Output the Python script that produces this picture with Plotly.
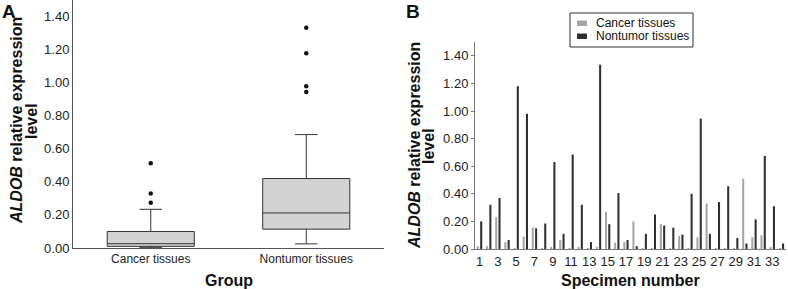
import plotly.graph_objects as go

# ---------------- data ----------------
groups = ["Cancer tissues", "Nontumor tissues"]
box_lowerfence = [0.004, 0.025]
box_q1 = [0.010, 0.114]
box_median = [0.026, 0.212]
box_q3 = [0.100, 0.420]
box_upperfence = [0.234, 0.686]
outlier_group = ["Cancer tissues", "Cancer tissues", "Cancer tissues",
                 "Nontumor tissues", "Nontumor tissues", "Nontumor tissues", "Nontumor tissues"]
outlier_values = [0.274, 0.330, 0.512, 0.943, 0.978, 1.178, 1.332]

specimens = [1, 2, 3, 4, 5, 6, 7, 8, 9, 10, 11, 12, 13, 14, 15, 16, 17,
             18, 19, 20, 21, 22, 23, 24, 25, 26, 27, 28, 29, 30, 31, 32, 33, 34]
cancer = [0.02, 0.02, 0.23, 0.05, 0.005, 0.09, 0.155, 0.005, 0.01, 0.065, 0.005,
          0.015, 0.003, 0.015, 0.27, 0.045, 0.05, 0.20, 0.003, 0.003, 0.18, 0.003,
          0.095, 0.003, 0.085, 0.33, 0.003, 0.005, 0.003, 0.51, 0.085, 0.10, 0.01, 0.003]
nontumor = [0.20, 0.32, 0.37, 0.065, 1.18, 0.98, 0.15, 0.185, 0.63, 0.11, 0.685,
            0.32, 0.05, 1.335, 0.18, 0.405, 0.065, 0.02, 0.11, 0.25, 0.17, 0.155,
            0.105, 0.40, 0.945, 0.11, 0.34, 0.455, 0.08, 0.04, 0.215, 0.675, 0.31, 0.04]
specimen_ticks = [1, 3, 5, 7, 9, 11, 13, 15, 17, 19, 21, 23, 25, 27, 29, 31, 33]
y_ticks = [0.0, 0.2, 0.4, 0.6, 0.8, 1.0, 1.2, 1.4]

# ---------------- layout helpers ----------------
W, H = 788, 289
FONT = "Liberation Sans, Arial, Helvetica, sans-serif"
LIGHT = "#a5a5a5"
DARK = "#2e2e2e"


def px(x):
    return x / W


def py(y):
    return 1 - y / H


fig = go.Figure()

# Panel A: box plot
fig.add_trace(go.Box(
    x=groups, q1=box_q1, median=box_median, q3=box_q3,
    lowerfence=box_lowerfence, upperfence=box_upperfence,
    boxpoints=False, width=0.56, whiskerwidth=0.26,
    fillcolor="#d3d3d3", line=dict(color="#333333", width=1),
    xaxis="x", yaxis="y", showlegend=False, hoverinfo="skip"))
fig.add_trace(go.Scatter(
    x=outlier_group, y=outlier_values, mode="markers",
    marker=dict(color="#111111", size=4.5),
    xaxis="x", yaxis="y", showlegend=False))

# Panel B: grouped bars
fig.add_trace(go.Bar(
    x=specimens, y=cancer, name="Cancer tissues",
    marker=dict(color=LIGHT, line=dict(width=0)),
    xaxis="x2", yaxis="y2", showlegend=False))
fig.add_trace(go.Bar(
    x=specimens, y=nontumor, name="Nontumor tissues",
    marker=dict(color=DARK, line=dict(width=0)),
    xaxis="x2", yaxis="y2", showlegend=False))

axis_font = dict(family=FONT, size=13, color="#222222")

fig.update_layout(
    width=W, height=H,
    margin=dict(l=0, r=0, t=0, b=0, autoexpand=False),
    paper_bgcolor="white", plot_bgcolor="white",
    font=dict(family=FONT, color="#222222"),
    barmode="group", bargap=0.28, bargroupgap=0.38,
    xaxis=dict(domain=[px(73), px(384)], range=[-0.5, 1.5],
               showline=True, linecolor="#555555", linewidth=1,
               ticks="", showgrid=False, zeroline=False,
               tickfont=dict(family=FONT, size=12, color="#222222"),
               anchor="y", automargin=False),
    yaxis=dict(domain=[py(248), 1.0], range=[0, 1.5],
               showline=True, linecolor="#555555", linewidth=1,
               ticks="", showgrid=False, zeroline=False,
               tickvals=y_ticks, tickformat=".2f",
               tickfont=axis_font, anchor="x", automargin=False),
    xaxis2=dict(domain=[px(475), px(786)], range=[0.5, 34.5],
                showline=True, linecolor="#777777", linewidth=1,
                ticks="", showgrid=False, zeroline=False,
                tickvals=specimen_ticks, ticktext=[str(v) for v in specimen_ticks],
                tickfont=axis_font, anchor="y2", automargin=False),
    yaxis2=dict(domain=[py(249), py(42)], range=[0, 1.5],
                showline=True, linecolor="#777777", linewidth=1,
                ticks="outside", ticklen=3, tickcolor="#777777",
                showgrid=False, zeroline=False,
                tickvals=y_ticks, tickformat=".2f",
                tickfont=axis_font, anchor="x2", automargin=False),
)

ann = []
# Panel labels
ann.append(dict(text="<b>A</b>", x=px(1), y=1.0, xref="paper", yref="paper",
                showarrow=False, font=dict(family=FONT, size=19, color="#111111"),
                xanchor="left", yanchor="top", borderpad=0))
ann.append(dict(text="<b>B</b>", x=px(405), y=1.0, xref="paper", yref="paper",
                showarrow=False, font=dict(family=FONT, size=19, color="#111111"),
                xanchor="left", yanchor="top", borderpad=0))
# Y titles (two lines each)
for x1, x2, yc in [(16, 31, 121), (414, 428, 146)]:
    ann.append(dict(text="<b><i>ALDOB</i> relative expression</b>", x=px(x1), y=py(yc),
                    xref="paper", yref="paper", showarrow=False, textangle=-90,
                    font=dict(family=FONT, size=16, color="#111111"),
                    xanchor="center", yanchor="middle"))
    ann.append(dict(text="<b>level</b>", x=px(x2), y=py(yc),
                    xref="paper", yref="paper", showarrow=False, textangle=-90,
                    font=dict(family=FONT, size=16, color="#111111"),
                    xanchor="center", yanchor="middle"))
# X titles
ann.append(dict(text="<b>Group</b>", x=px(228.5), y=py(280), xref="paper", yref="paper",
                showarrow=False, font=dict(family=FONT, size=16, color="#111111"),
                xanchor="center", yanchor="middle"))
ann.append(dict(text="<b>Specimen number</b>", x=px(630.5), y=py(280), xref="paper", yref="paper",
                showarrow=False, font=dict(family=FONT, size=16, color="#111111"),
                xanchor="center", yanchor="middle"))
# Custom legend text
ann.append(dict(text="Cancer tissues", x=px(594), y=py(23), xref="paper", yref="paper",
                showarrow=False, font=dict(family=FONT, size=12, color="#111111"),
                xanchor="left", yanchor="middle"))
ann.append(dict(text="Nontumor tissues", x=px(594), y=py(36), xref="paper", yref="paper",
                showarrow=False, font=dict(family=FONT, size=12, color="#111111"),
                xanchor="left", yanchor="middle"))
fig.update_layout(annotations=ann)

shapes = [
    dict(type="rect", xref="paper", yref="paper", x0=px(570), x1=px(693), y0=py(47), y1=py(13),
         line=dict(color="#333333", width=1), fillcolor="white"),
    dict(type="rect", xref="paper", yref="paper", x0=px(577), x1=px(587), y0=py(26), y1=py(20.5),
         line=dict(width=0), fillcolor=LIGHT),
    dict(type="rect", xref="paper", yref="paper", x0=px(577), x1=px(587), y0=py(39), y1=py(33.5),
         line=dict(width=0), fillcolor=DARK),
]
fig.update_layout(shapes=shapes)

fig.write_html("out.html",
               config={"displayModeBar": False},
               post_script="document.body.style.margin='0';document.body.style.overflow='hidden';")
